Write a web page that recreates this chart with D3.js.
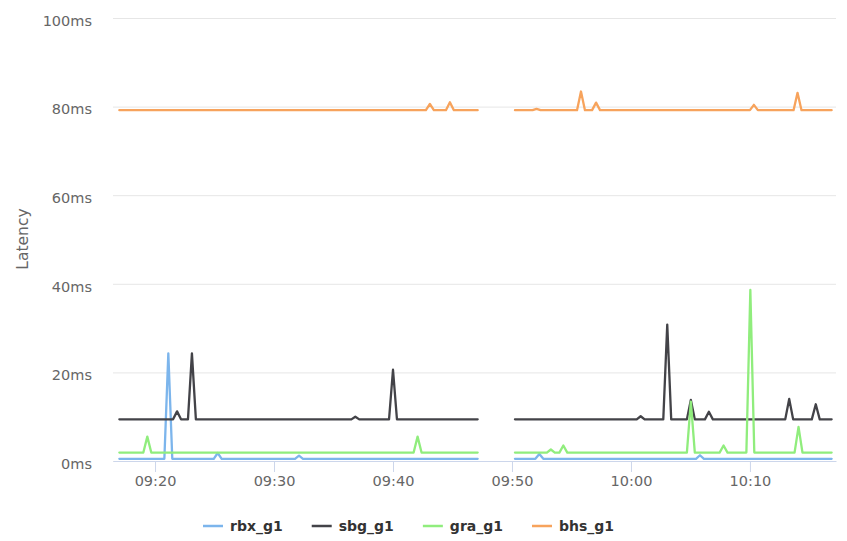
<!DOCTYPE html>
<html>
<head>
<meta charset="utf-8">
<script src="https://cdn.jsdelivr.net/npm/d3@7"></script>
<style>
  html, body { margin: 0; padding: 0; background: #fff; }
  svg { display: block; font-family: "DejaVu Sans", "Lucida Grande", sans-serif; }
</style>
</head>
<body>
<svg id="chart" width="847" height="541"></svg>
<script>
// ---- data (vertices; null = gap in the data) ----
const seriesNames = ["rbx_g1", "sbg_g1", "gra_g1", "bhs_g1"];
const seriesColors = ["#7cb5ec", "#434348", "#90ed7d", "#f7a35c"];

const rbx = [
  ["09:17:00",0.5],["09:20:47",0.5],["09:21:07",24.3],["09:21:27",0.5],
  ["09:24:56",0.5],["09:25:16",1.8],["09:25:36",0.5],
  ["09:31:46",0.5],["09:32:06",1.2],["09:32:26",0.5],
  ["09:47:07",0.5],["09:48:40",null],
  ["09:50:15",0.5],["09:51:58",0.5],["09:52:18",1.6],["09:52:38",0.5],
  ["10:05:28",0.5],["10:05:48",1.3],["10:06:08",0.5],
  ["10:16:52",0.5]
];
const sbg = [
  ["09:17:00",9.4],["09:21:31",9.4],["09:21:51",11.2],["09:22:11",9.4],
  ["09:22:46",9.4],["09:23:06",24.3],["09:23:26",9.4],
  ["09:36:30",9.4],["09:36:50",10.0],["09:37:10",9.4],
  ["09:39:40",9.4],["09:40:00",20.6],["09:40:20",9.4],
  ["09:47:07",9.4],["09:48:40",null],
  ["09:50:15",9.4],["10:00:29",9.4],["10:00:49",10.1],["10:01:09",9.4],
  ["10:02:43",9.4],["10:03:03",30.8],["10:03:23",9.4],
  ["10:04:42",9.4],["10:05:02",13.8],["10:05:22",9.4],
  ["10:06:13",9.4],["10:06:33",11.1],["10:06:53",9.4],
  ["10:12:58",9.4],["10:13:18",14.0],["10:13:38",9.4],
  ["10:15:12",9.4],["10:15:32",12.8],["10:15:52",9.4],
  ["10:16:52",9.4]
];
const gra = [
  ["09:17:00",1.9],["09:19:01",1.9],["09:19:21",5.5],["09:19:41",1.9],
  ["09:41:44",1.9],["09:42:04",5.5],["09:42:24",1.9],
  ["09:47:07",1.9],["09:48:40",null],
  ["09:50:15",1.9],["09:52:56",1.9],["09:53:16",2.6],["09:53:36",1.9],
  ["09:53:59",1.9],["09:54:19",3.5],["09:54:39",1.9],
  ["10:04:42",1.9],["10:05:02",13.4],["10:05:22",1.9],
  ["10:07:27",1.9],["10:07:47",3.5],["10:08:07",1.9],
  ["10:09:42",1.9],["10:10:02",38.6],["10:10:22",1.9],
  ["10:13:45",1.9],["10:14:05",7.7],["10:14:25",1.9],
  ["10:16:52",1.9]
];
const bhs = [
  ["09:17:00",79.2],["09:42:46",79.2],["09:43:06",80.6],["09:43:26",79.2],
  ["09:44:27",79.2],["09:44:47",81.0],["09:45:07",79.2],
  ["09:47:07",79.2],["09:48:40",null],
  ["09:50:15",79.2],["09:51:44",79.2],["09:52:04",79.5],["09:52:24",79.2],
  ["09:55:28",79.2],["09:55:48",83.4],["09:56:08",79.2],
  ["09:56:44",79.2],["09:57:04",80.9],["09:57:24",79.2],
  ["10:10:00",79.2],["10:10:20",80.4],["10:10:40",79.2],
  ["10:13:40",79.2],["10:14:00",83.1],["10:14:20",79.2],
  ["10:16:52",79.2]
];
const allSeries = [rbx, sbg, gra, bhs];

const timeDomain = ["09:16:28", "10:17:14"];
const yTicks = [0, 20, 40, 60, 80, 100];
const yTickLabels = ["0ms", "20ms", "40ms", "60ms", "80ms", "100ms"];
const xTickTimes = ["09:20", "09:30", "09:40", "09:50", "10:00", "10:10"];
const yTitle = "Latency";

// ---- layout ----
const plot = { left: 113, right: 836, top: 18, bottom: 461 };
const parseT = d3.timeParse("%H:%M:%S");
const parseHM = d3.timeParse("%H:%M");

const svg = d3.select("#chart");
const x = d3.scaleTime()
  .domain(timeDomain.map(parseT))
  .range([plot.left, plot.right]);
const y = d3.scaleLinear().domain([0, 100]).range([plot.bottom, plot.top]);

// grid lines + y labels
const yAxis = d3.axisLeft(y)
  .tickValues(yTicks)
  .tickSize(-(plot.right - plot.left))
  .tickFormat((d, i) => yTickLabels[i]);
const gy = svg.append("g")
  .attr("transform", `translate(${plot.left},0)`)
  .call(yAxis);
gy.select(".domain").remove();
gy.selectAll(".tick line").attr("stroke", "#e6e6e6").attr("stroke-width", 1);
gy.selectAll(".tick text")
  .attr("x", -21)
  .attr("dy", "0.5em")
  .attr("fill", "#666666")
  .style("font-size", "14.5px")
  .style("font-family", "'DejaVu Sans', sans-serif");

// x axis
const xAxis = d3.axisBottom(x)
  .tickValues(xTickTimes.map(parseHM))
  .tickSize(11)
  .tickSizeOuter(0)
  .tickFormat(d3.timeFormat("%H:%M"));
const gx = svg.append("g")
  .attr("transform", `translate(0,${plot.bottom})`)
  .call(xAxis);
gx.select(".domain").attr("stroke", "#ccd6eb").attr("stroke-width", 1);
gx.selectAll(".tick line").attr("stroke", "#ccd6eb");
gx.selectAll(".tick text")
  .attr("y", 15)
  .attr("dy", "0.71em")
  .attr("fill", "#666666")
  .style("font-size", "14.5px")
  .style("font-family", "'DejaVu Sans', sans-serif");

// y axis title
svg.append("text")
  .attr("transform", `translate(28,239) rotate(-90)`)
  .attr("text-anchor", "middle")
  .attr("fill", "#666666")
  .style("font-size", "15.5px")
  .text(yTitle);

// lines
const line = d3.line()
  .defined(d => d[1] !== null)
  .x(d => x(parseT(d[0])))
  .y(d => y(d[1]));

allSeries.forEach((s, i) => {
  svg.append("path")
    .datum(s)
    .attr("fill", "none")
    .attr("stroke", seriesColors[i])
    .attr("stroke-width", 2.3)
    .attr("stroke-linejoin", "round")
    .attr("stroke-linecap", "round")
    .attr("d", line);
});

// legend
const legend = svg.append("g").attr("transform", "translate(0,526)");
let lx = 203;
seriesNames.forEach((name, i) => {
  const g = legend.append("g");
  g.append("line")
    .attr("x1", lx).attr("x2", lx + 20)
    .attr("y1", 0).attr("y2", 0)
    .attr("stroke", seriesColors[i]).attr("stroke-width", 2.5);
  const t = g.append("text")
    .attr("x", lx + 27)
    .attr("dy", "0.36em")
    .attr("fill", "#333333")
    .style("font-size", "14px")
    .style("font-weight", "bold")
    .text(name);
  lx = lx + 27 + t.node().getComputedTextLength() + 29;
});
</script>
</body>
</html>
